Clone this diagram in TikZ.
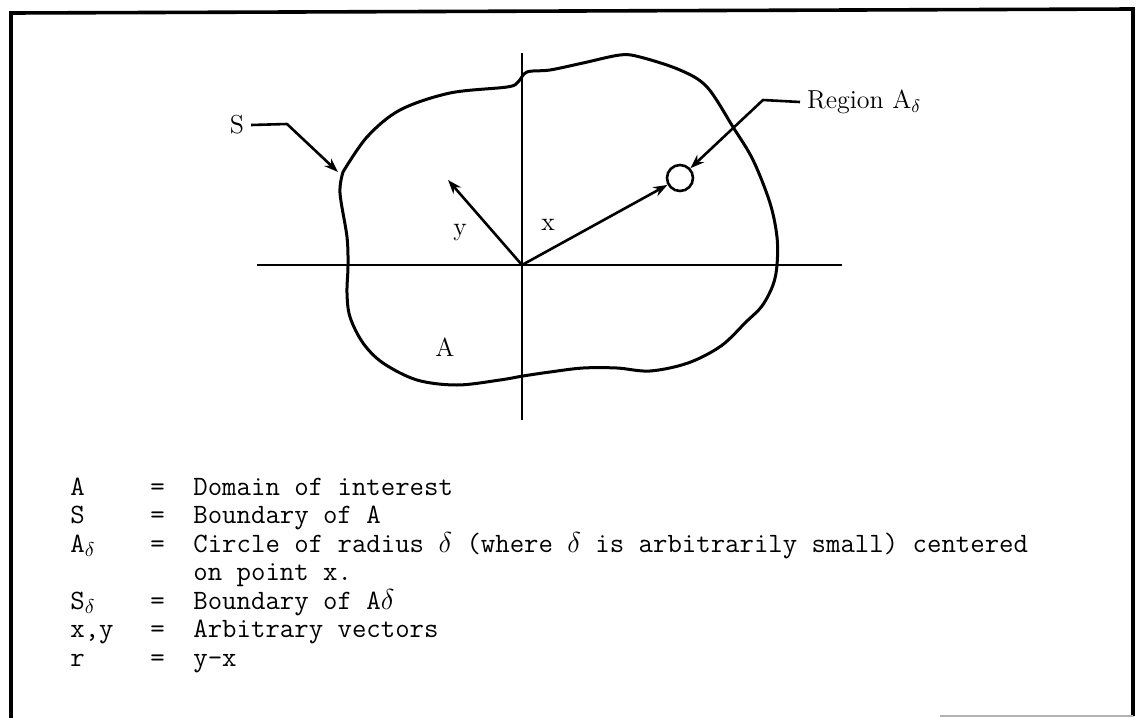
\documentclass[tikz,border=0pt]{standalone}
\usepackage{fontspec}
\usepackage{tikz}
\usetikzlibrary{arrows.meta, positioning, calc}

\begin{document}
\begin{tikzpicture}[
    x=0.5pt, y=-0.5pt,
    boundary/.style={line width=1.5pt, line join=round},
    axisline/.style={line width=1.4pt},
    vec/.style={line width=1.3pt, -{Stealth[length=7pt, width=5pt]}},
    lead/.style={line width=1.3pt, line join=round, -{Stealth[length=7pt, width=5pt]}},
    lbl/.style={font=\fontsize{13}{15}\selectfont},
    leg/.style={font=\fontsize{14}{16}\selectfont\ttfamily, inner sep=0pt, anchor=base west},
    frame/.style={line width=1.8pt}
]
    \useasboundingbox (0,0) rectangle (1136,718);
    % outer frame
    \draw[frame] (11,718) -- (11,13) -- (1133,9) -- (1133,716);
    \draw[gray!60, line width=0.6pt] (940,716) -- (1133,716);

    % axes
    \coordinate (O) at (522,265);
    \coordinate (vtop) at (522,53);
    \coordinate (vbot) at (522,420);
    \coordinate (hl) at (257,265);
    \coordinate (hr) at (842,265);
    \draw[axisline] (vtop) -- (vbot);
    \draw[axisline] (hl) -- (hr);

    % boundary S of the domain A
    \draw[boundary] plot[smooth, tension=0.55] coordinates {
        (343,172) (367,137) (400,110) (450,93) (507,87) (518,82) (527,72)
        (550,70) (583,63) (620,55) (640,57) (680,70) (707,87) (733,127)
        (753,160) (770,203) (777,237) (777,265) (773,285) (762,306) (746,322)
        (721,346) (688,363) (650,371) (617,368) (583,368) (550,372) (523,376)
        (500,380) (457,385) (417,380) (383,363) (363,343) (350,317) (347,293)
        (348,266) (347,237) (340,193) (343,172)};

    % region A_delta and the two vectors
    \node[circle, draw, line width=1.3pt, minimum size=13pt, inner sep=0pt] (Ad) at (680,178) {};
    \coordinate (ytip) at (448,180);
    \draw[vec] (O) -- (Ad);
    \draw[vec] (O) -- (ytip);
    \node[lbl] (xlab) at (548,225) {x};
    \node[lbl] (ylab) at (460,233) {y};
    \node[lbl] (Alab) at (445,347) {A};

    % labels with leaders
    \node[lbl] (Slab) at (237,125) {S};
    \coordinate (sbend) at (287,124);
    \coordinate (stip) at (338,172);
    \draw[lead] (Slab.east) -- (sbend) -- (stip);
    \node[lbl, anchor=west] (reg) at (800,102) {Region A$_\delta$};
    \coordinate (rbend) at (763,100);
    \draw[lead] (reg.west) -- (rbend) -- (Ad);

    % legend
    \node[leg] (symA) at (70,495) {A};
    \node[leg] (eqA) at (150,495) {=};
    \node[leg] (dA) at (193,495) {Domain of interest};
    \node[leg] (symS) at (70,523.5) {S};
    \node[leg] (eqS) at (150,523.5) {=};
    \node[leg] (dS) at (193,523.5) {Boundary of A};
    \node[leg] (symAd) at (70,552) {A$_\delta$};
    \node[leg] (eqAd) at (150,552) {=};
    \node[leg] (dAd) at (193,552) {Circle of radius $\delta$ (where $\delta$ is arbitrarily small) centered};
    \node[leg] (dAd2) at (193,580.5) {on point x.};
    \node[leg] (symSd) at (70,609) {S$_\delta$};
    \node[leg] (eqSd) at (150,609) {=};
    \node[leg] (dSd) at (193,609) {Boundary of A$\delta$};
    \node[leg] (symxy) at (70,637.5) {x,y};
    \node[leg] (eqxy) at (150,637.5) {=};
    \node[leg] (dxy) at (193,637.5) {Arbitrary vectors};
    \node[leg] (symr) at (70,666) {r};
    \node[leg] (eqr) at (150,666) {=};
    \node[leg] (dr) at (193,666) {y-x};
\end{tikzpicture}
\end{document}
